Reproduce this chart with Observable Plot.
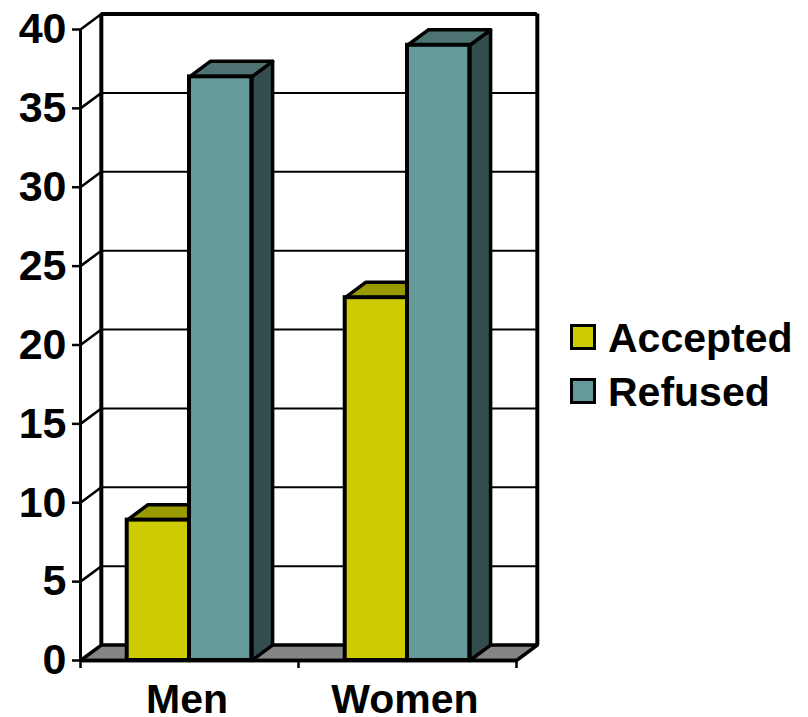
<!DOCTYPE html>
<html>
<head>
<meta charset="utf-8">
<script src="https://cdn.jsdelivr.net/npm/d3@7"></script>
<script src="https://cdn.jsdelivr.net/npm/@observablehq/plot@0.6"></script>
<style>
  html, body { margin: 0; padding: 0; background: #fff; }
  #chart { position: relative; width: 808px; height: 717px; overflow: hidden; }
  #chart svg { display: block; }
  .legend { position: absolute; left: 570px; top: 312px; font: bold 41px "Liberation Sans", Arial, sans-serif; color: #000; }
  .legend div { position: absolute; left: 0; height: 52px; white-space: nowrap; }
  .legend i { position: absolute; left: 0; top: 12px; width: 20px; height: 20px; border: 3.5px solid #000; }
  .legend span { position: absolute; left: 38px; top: 5px; line-height: 42px; }
</style>
</head>
<body>
<div id="chart"></div>
<script>
const categories = ["Men", "Women"];
const seriesNames = ["Accepted", "Refused"];
const accepted = [8.9, 23];
const refused = [37, 39];
const yTicks = [0, 5, 10, 15, 20, 25, 30, 35, 40];
const gridValues = [5, 10, 15, 20, 25, 30, 35];

const frontColors = ["#cccc00", "#669999"];
const topColors = ["#999900", "#4d7373"];
const sideColors = ["#808000", "#334d4d"];

// Oblique projection of the box: depth expressed in scale units.
const depthX = 0.0955;
const depthY = 0.98;
const barWidth = 2 / 7; // a 150% gap between clusters
const yTop = yTicks[yTicks.length - 1];
const xEnd = categories.length;

const bars = categories.flatMap((category, i) =>
  [accepted[i], refused[i]].map((value, s) => {
    const x1 = i + 0.5 + (s - 1) * barWidth;
    return {id: `${category}-${s}`, s, value, x1, x2: x1 + barWidth};
  })
);

// One closed polygon per vertex list, tagged with the id used as z.
const poly = (id, pts) => pts.map(([x, y]) => ({id, x, y}));
const topFace = (b) => poly(b.id, [
  [b.x1, b.value], [b.x2, b.value],
  [b.x2 + depthX, b.value + depthY], [b.x1 + depthX, b.value + depthY]
]);
const sideFace = (b) => poly(b.id, [
  [b.x2, 0], [b.x2, b.value],
  [b.x2 + depthX, b.value + depthY], [b.x2 + depthX, depthY]
]);
const floor = poly("floor", [
  [0, 0], [depthX, depthY], [xEnd + depthX, depthY], [xEnd, 0]
]);

const faces = (s, face) => bars.filter((b) => b.s === s).flatMap(face);
const barLayer = (s) => [
  Plot.line(faces(s, sideFace), {x: "x", y: "y", z: "id", curve: "linear-closed", fill: sideColors[s], stroke: "#000", strokeWidth: 3.5}),
  Plot.line(faces(s, topFace), {x: "x", y: "y", z: "id", curve: "linear-closed", fill: topColors[s], stroke: "#000", strokeWidth: 3.5}),
  Plot.rect(bars.filter((b) => b.s === s), {x1: "x1", x2: "x2", y1: 0, y2: "value", fill: frontColors[s], stroke: "#000", strokeWidth: 4})
];

const plot = Plot.plot({
  width: 808,
  height: 717,
  marginLeft: 80,
  marginRight: 292,
  marginTop: 29,
  marginBottom: 57,
  style: {fontFamily: '"Liberation Sans", Arial, sans-serif', fontWeight: "bold", color: "#000", background: "#fff"},
  x: {domain: [0, xEnd]},
  y: {domain: [0, yTop]},
  marks: [
    // back wall grid
    Plot.ruleY(gridValues, {x1: depthX, x2: xEnd + depthX, y: (d) => d + depthY, stroke: "#000", strokeWidth: 2}),
    // left wall diagonals
    Plot.link(gridValues.concat(yTop), {x1: 0, y1: (d) => d, x2: depthX, y2: (d) => d + depthY, stroke: "#000", strokeWidth: 2.5}),
    // floor
    Plot.line(floor, {x: "x", y: "y", z: "id", curve: "linear-closed", fill: "#858585", stroke: "#000", strokeWidth: 3.5}),
    // wall frame
    Plot.ruleY([yTop + depthY], {x1: depthX, x2: xEnd + depthX, stroke: "#000", strokeWidth: 4}),
    Plot.ruleX([depthX, xEnd + depthX], {y1: depthY, y2: yTop + depthY, stroke: "#000", strokeWidth: 4}),
    // bars, nearest series drawn last within each layer
    ...barLayer(0),
    ...barLayer(1),
    // front axis lines
    Plot.ruleX([0], {y1: 0, y2: yTop, stroke: "#000", strokeWidth: 3}),
    Plot.ruleY([0], {x1: 0, x2: xEnd, stroke: "#000", strokeWidth: 3.5}),
    Plot.axisY({ticks: yTicks, tickSize: 8, tickPadding: 6, strokeWidth: 2.5, fontSize: 43, label: null, tickFormat: (d) => String(d)}),
    Plot.axisX({ticks: d3.range(xEnd + 1), tickSize: 8, strokeWidth: 2.5, tickFormat: () => "", label: null}),
    Plot.axisX({ticks: categories.map((_, i) => i + 0.5), tickSize: 0, tickPadding: 23, dx: -2.5, fontSize: 41, label: null, tickFormat: (d) => categories[Math.floor(d)]})
  ]
});

const root = document.getElementById("chart");
root.append(plot);

const legend = document.createElement("div");
legend.className = "legend";
seriesNames.forEach((name, s) => {
  const row = document.createElement("div");
  row.style.top = `${s * 54}px`;
  const swatch = document.createElement("i");
  swatch.style.background = frontColors[s];
  const label = document.createElement("span");
  label.textContent = name;
  row.append(swatch, label);
  legend.append(row);
});
root.append(legend);
</script>
</body>
</html>
